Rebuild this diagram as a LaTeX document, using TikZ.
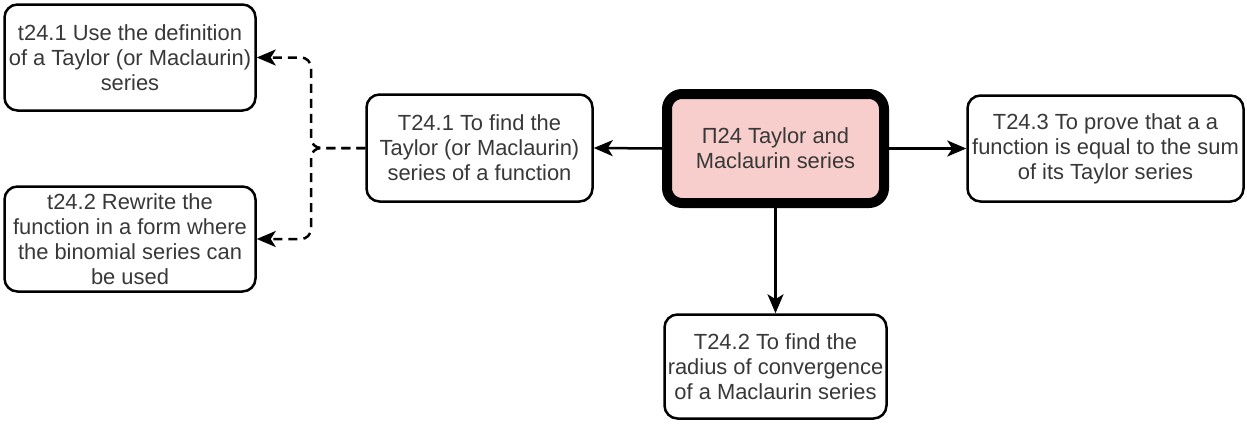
\documentclass[tikz,border=0pt]{standalone}
\usepackage{fontspec}
\setmainfont{Liberation Sans}
\usetikzlibrary{arrows.meta}
\definecolor{txt}{HTML}{383838}
\definecolor{pinkfill}{HTML}{F8CECC}
\begin{document}
\begin{tikzpicture}[x=1pt,y=-1pt,
  box/.style={draw=black, line width=2.5pt, rounded corners=13pt, fill=white,
    inner sep=0pt, align=center, text=txt,
    font=\fontsize{21.9pt}{25pt}\selectfont},
  hub/.style={box, line width=10pt, fill=pinkfill, rounded corners=15pt},
  link/.style={line width=2.5pt, -{Stealth[length=19pt,width=16pt,inset=5pt]}},
  dlink/.style={link, dash pattern=on 9pt off 6pt, rounded corners=10pt}]
\useasboundingbox (0,0) rectangle (1247,423);

% sub-topic boxes on the left
\node[box, minimum width=251pt, minimum height=106pt] (a) at (130,57.5)
  {t24.1 Use the definition\\of a Taylor (or Maclaurin)\\series};
\node[box, minimum width=251pt, minimum height=105pt] (b) at (130,239)
  {t24.2 Rewrite the\\function in a form where\\the binomial series can\\be used};

% main topic and its three goals
\node[box, minimum width=226pt, minimum height=107pt] (c) at (479.5,148)
  {T24.1 To find the\\Taylor (or Maclaurin)\\series of a function};
\node[hub, minimum width=217pt, minimum height=109pt] (m) at (775.5,148.5)
  {П24 Taylor and\\Maclaurin series};
\node[box, minimum width=276pt, minimum height=106pt] (d) at (1105.5,148.5)
  {T24.3 To prove that a a\\function is equal to the sum\\of its Taylor series};
\node[box, minimum width=222pt, minimum height=104pt] (e) at (775.5,366.5)
  {T24.2 To find the\\radius of convergence\\of a Maclaurin series};

% solid connectors from the hub
\draw[link] (m.west) -- (c.east);
\draw[link] (m.east) -- (d.west);
\draw[link] (m.south) -- (e.north);

% dashed elbow connectors to the sub-topics
\coordinate (j) at (311,148);
\draw[dlink] (c.west) -- (j) |- (a.east);
\draw[dlink] (c.west) -- (j) |- (b.east);
\end{tikzpicture}
\end{document}
